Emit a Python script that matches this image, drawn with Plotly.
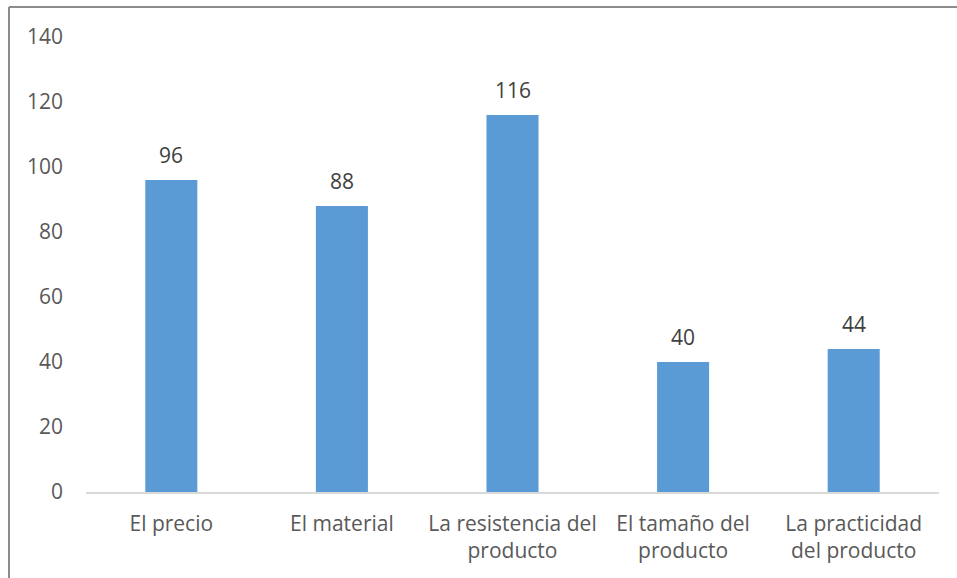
import plotly.graph_objects as go

categories = ["El precio", "El material", "La resistencia del<br>producto",
              "El tamaño del<br>producto", "La practicidad<br>del producto"]
values = [96, 88, 116, 40, 44]
y_ticks = [0, 20, 40, 60, 80, 100, 120, 140]

W, H = 957, 578
L, R, T, B = 86, 18, 37, 86
pw = W - L - R
ph = H - T - B

FONT = "Open Sans"
TXT = "#595959"
FS = 21

fig = go.Figure(go.Bar(
    x=categories, y=values,
    marker=dict(color="#5B9BD5", line=dict(width=0)),
    width=0.305,
    cliponaxis=False,
))

for c, v in zip(categories, values):
    fig.add_annotation(x=c, y=v, text=str(v), showarrow=False, yanchor="bottom",
                       yshift=9, font=dict(family=FONT, size=FS, color="#404040"))

fig.update_layout(
    width=W, height=H,
    margin=dict(l=L, r=R, t=T, b=B),
    paper_bgcolor="white", plot_bgcolor="white",
    showlegend=False,
    font=dict(family=FONT, size=FS, color=TXT),
    xaxis=dict(showgrid=False, showline=True, linecolor="#D9D9D9", linewidth=1.5,
               ticks="", ticklabelstandoff=12,
               tickfont=dict(family=FONT, size=FS, color=TXT)),
    yaxis=dict(range=[0, 140], tickvals=y_ticks, showgrid=False, zeroline=False,
               showline=False, ticks="", ticklabelstandoff=22,
               tickfont=dict(family=FONT, size=FS, color=TXT)),
    shapes=[
        dict(type="line", xref="paper", yref="paper",
             x0=(9 - L) / pw, x1=(W - L) / pw, y0=(H - B - 7) / ph, y1=(H - B - 7) / ph,
             line=dict(color="#8C8C8C", width=2)),
        dict(type="line", xref="paper", yref="paper",
             x0=(9 - L) / pw, x1=(9 - L) / pw, y0=(H - B - 7) / ph, y1=-B / ph,
             line=dict(color="#8C8C8C", width=2)),
    ],
)

fig.write_html("out.html")
